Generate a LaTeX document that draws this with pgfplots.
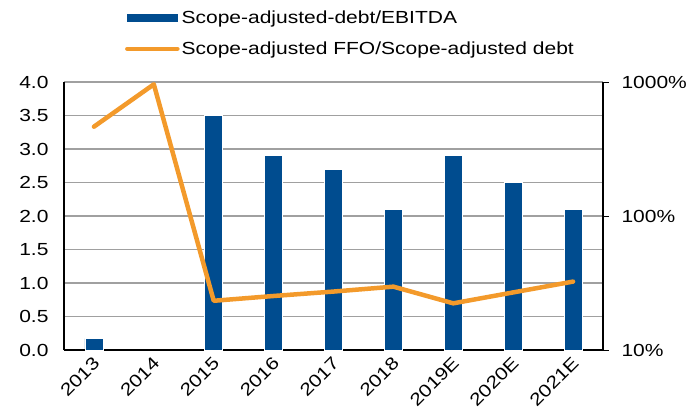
\documentclass[border=0pt]{standalone}
\usepackage{pgfplots}
\pgfplotsset{compat=1.18}
\usepackage{fontspec}
\setmainfont{Liberation Sans}[FakeStretch=1.2]
\definecolor{barblue}{HTML}{004C8F}
\definecolor{lineorange}{HTML}{F39A2B}
\definecolor{gridgray}{HTML}{A0A0A0}
\begin{document}
\begin{tikzpicture}
\begin{axis}[
  scale only axis, width=539pt, height=268pt,
  xmin=-0.5, xmax=8.5, ymin=0, ymax=4,
  axis x line*=bottom, axis y line*=left,
  axis line style={line width=1.5pt, -},
  xtick={0,1,2,3,4,5,6,7,8},
  xticklabels={2013,2014,2015,2016,2017,2018,2019E,2020E,2021E},
  x tick style={draw=none}, y tick style={draw=none},
  ytick={0,0.5,1,1.5,2,2.5,3,3.5,4},
  ymajorgrids, grid style={gridgray, line width=1.5pt},
  tick label style={font=\fontsize{17.5}{20}\selectfont},
  yticklabel style={xshift=-12pt, /pgf/number format/.cd, fixed, fixed zerofill, precision=1, assume math mode=true},
  xticklabel style={rotate=45, anchor=east, xshift=1pt, yshift=-6pt},
  ybar, bar width=18pt,
]
\addplot[fill=barblue, draw=white, line width=0.8pt] coordinates {(0,0.17) (2,3.5) (3,2.9) (4,2.7) (5,2.1) (6,2.9) (7,2.5) (8,2.1)};
\end{axis}
\begin{axis}[
  scale only axis, width=539pt, height=268pt,
  xmin=-0.5, xmax=8.5, ymode=log, ymin=10, ymax=1000,
  axis x line=none, axis y line*=right,
  axis line style={line width=1.5pt, -},
  ytick={10,100,1000}, yticklabels={10\%,100\%,1000\%},
  yminorticks=false,
  y tick style={black, line width=1pt}, major tick length=6pt, tick align=outside,
  tick label style={font=\fontsize{17.5}{20}\selectfont},
  yticklabel style={xshift=9pt},
  legend style={at={(0.113,1.275)}, anchor=north west, draw=none, fill=none,
    font=\fontsize{17.5}{20}\selectfont, row sep=13pt, inner sep=0pt},
  legend cell align=left,
]
\addlegendimage{legend image code/.code={\fill[barblue] (0pt,-3.5pt) rectangle (50pt,3.5pt);}}
\addlegendentry{Scope-adjusted-debt/EBITDA}
\addplot[lineorange, line width=4.5pt, mark=none, line cap=round, line join=round,
  legend image code/.code={\draw[lineorange, line width=4.5pt, line cap=round] (0pt,0pt) -- (50pt,0pt);}]
  coordinates {(0,464) (1,961) (2,23.3) (3,25.3) (4,27.3) (5,29.7) (6,22.3) (7,26.9) (8,32.4)};
\addlegendentry{Scope-adjusted FFO/Scope-adjusted debt}
\end{axis}
\pgfresetboundingbox
\useasboundingbox (-64pt,-66pt) rectangle (627pt,350pt);
\end{tikzpicture}
\end{document}
